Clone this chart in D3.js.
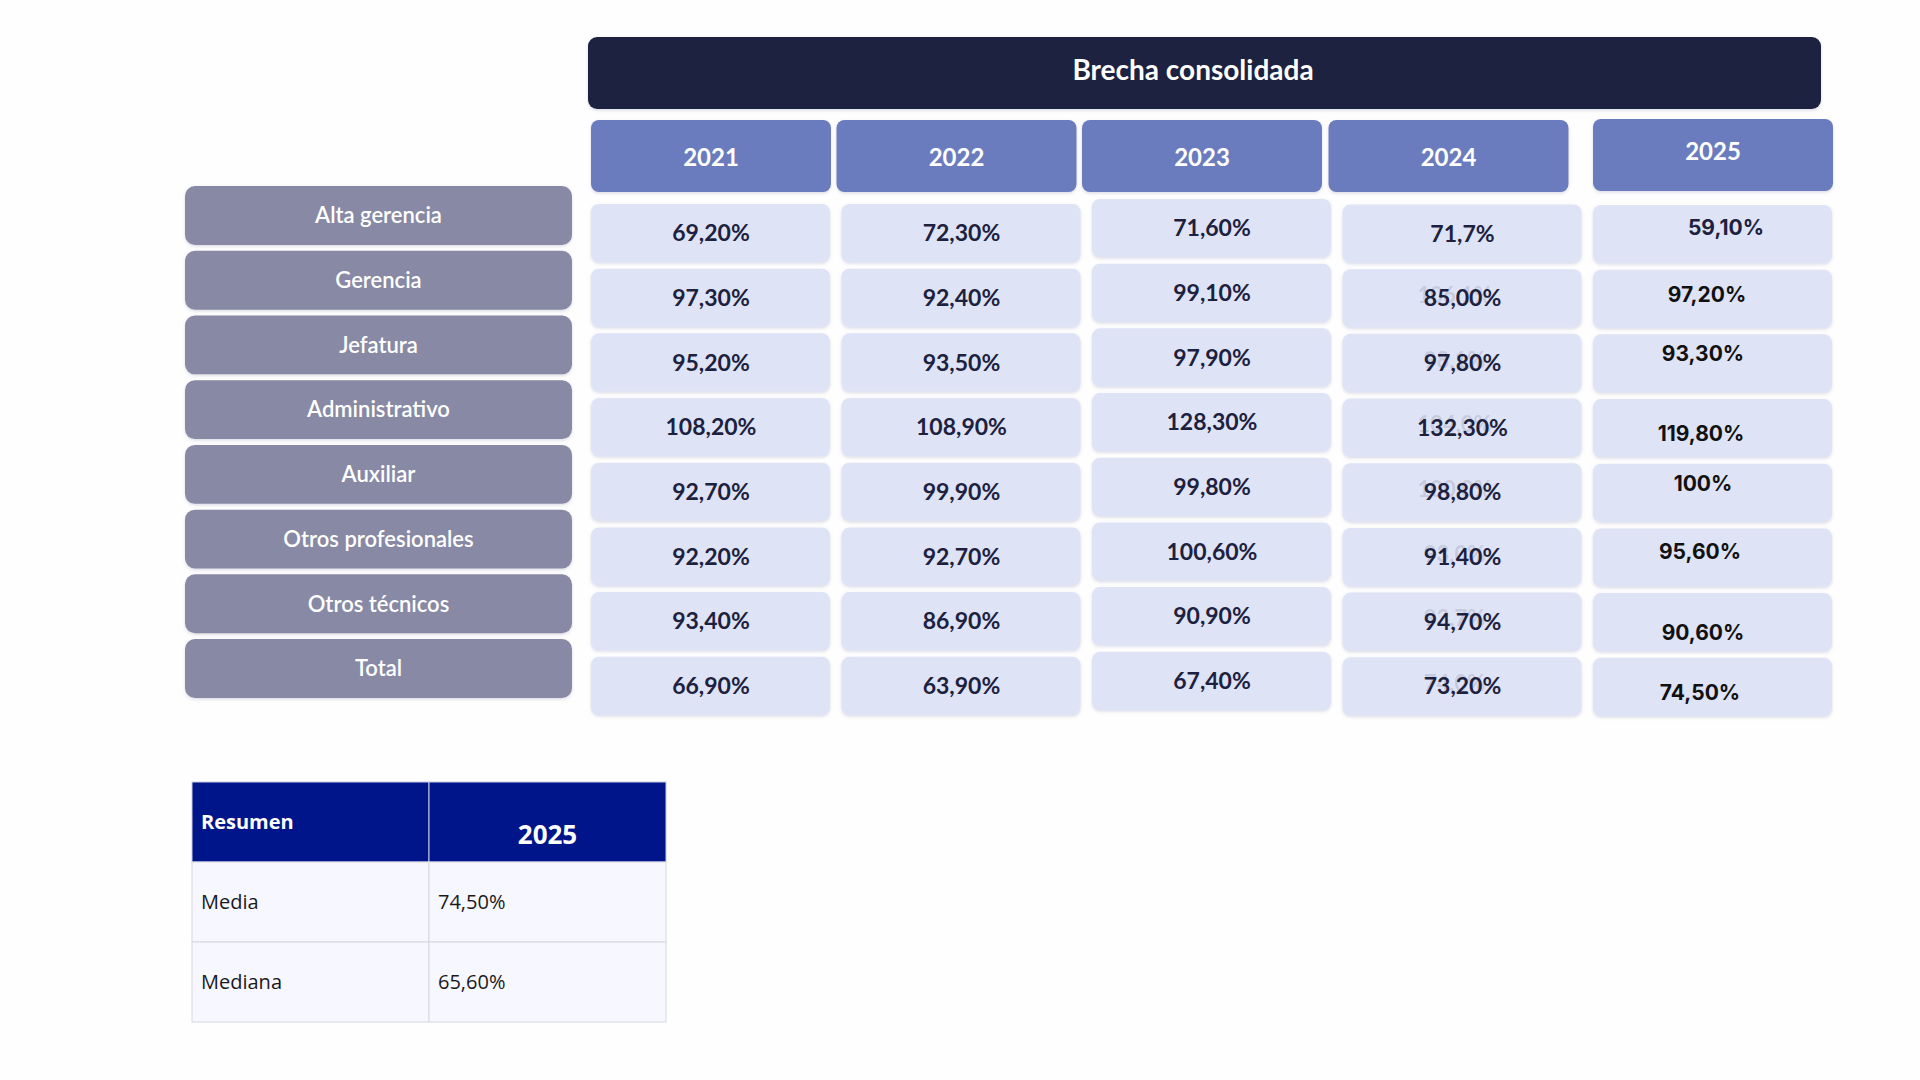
<!DOCTYPE html>
<html>
<head>
<meta charset="utf-8">
<script src="https://cdn.jsdelivr.net/npm/d3@7"></script>
<style>
  body { margin: 0; background: #fefefe; }
  svg { display: block; }
</style>
</head>
<body>
<div id="chart"></div>
<script>
// data
const title = "Brecha consolidada";
const years = ["2021", "2022", "2023", "2024", "2025"];
const categories = ["Alta gerencia", "Gerencia", "Jefatura", "Administrativo",
  "Auxiliar", "Otros profesionales", "Otros técnicos", "Total"];

const v2021 = ["69,20%", "97,30%", "95,20%", "108,20%", "92,70%", "92,20%", "93,40%", "66,90%"];
const v2022 = ["72,30%", "92,40%", "93,50%", "108,90%", "99,90%", "92,70%", "86,90%", "63,90%"];
const v2023 = ["71,60%", "99,10%", "97,90%", "128,30%", "99,80%", "100,60%", "90,90%", "67,40%"];
const v2024 = ["71,7%", "85,00%", "97,80%", "132,30%", "98,80%", "91,40%", "94,70%", "73,20%"];
const v2025 = ["59,10%", "97,20%", "93,30%", "119,80%", "100%", "95,60%", "90,60%", "74,50%"];
// faint older values still showing behind the 2024 column
const ghost2024 = ["", "106,1%", "98,1%", "104,0%", "100,0%", "93,0%", "93,7%", "74,0%"];

const summaryHead = ["Resumen", "2025"];
const summaryRows = ["Media", "Mediana"];
const summaryVals = ["74,50%", "65,60%"];

const series = [v2021, v2022, v2023, v2024, v2025];

// layout
const width = 1920, height = 1080;
const colShift = [3, 3, -2, 3.5, 4];       // small vertical drift of each value column
const headShift = [0, -5, -10, -14, 0];    // header boxes sit a bit left of their column
const nudge2025 = [[13, -6], [-6, -4], [-10, -10], [-12, 5], [-10, -9], [-13, -6], [-10, 10], [-13, 6]];

const svg = d3.select("#chart").append("svg")
  .attr("width", width).attr("height", height)
  .attr("viewBox", [0, 0, width, height]);

const defs = svg.append("defs");
defs.append("filter").attr("id", "soft")
  .attr("x", "-5%").attr("y", "-10%").attr("width", "110%").attr("height", "125%")
  .append("feDropShadow")
  .attr("dx", 0).attr("dy", 1.5).attr("stdDeviation", 1.5)
  .attr("flood-color", "#8a90b0").attr("flood-opacity", 0.3);

const x = d3.scaleBand().domain(years).range([591, 1833]).paddingInner(0.042);
const yRow = d3.scaleBand().domain(categories).range([201, 712]).paddingInner(0.1);
const yLab = d3.scaleBand().domain(categories).range([186, 698]).paddingInner(0.09);

// title bar
svg.append("rect")
  .attr("x", 588).attr("y", 37).attr("width", 1233).attr("height", 72)
  .attr("rx", 9).attr("fill", "#1c2140").attr("filter", "url(#soft)");
svg.append("text")
  .attr("x", 1193).attr("y", 70).attr("dy", "0.35em")
  .attr("text-anchor", "middle")
  .attr("font-family", "Lato, 'Noto Sans', sans-serif")
  .attr("font-size", 28).attr("font-weight", 700)
  .attr("fill", "#ffffff")
  .text(title);

// year headers
const head = svg.append("g").selectAll("g").data(years).join("g")
  .attr("transform", (d, i) => `translate(${x(d) + headShift[i]},${i === 4 ? 119 : 120})`);
head.append("rect")
  .attr("width", x.bandwidth()).attr("height", 72)
  .attr("rx", 8).attr("fill", "#6b7bbd").attr("filter", "url(#soft)");
head.append("text")
  .attr("x", x.bandwidth() / 2).attr("y", (d, i) => i === 4 ? 33 : 38).attr("dy", "0.35em")
  .attr("text-anchor", "middle")
  .attr("font-family", "Lato, 'Noto Sans', sans-serif")
  .attr("font-size", 24).attr("font-weight", 700)
  .attr("fill", "#ffffff")
  .text(d => d);

// row labels
const lab = svg.append("g").selectAll("g").data(categories).join("g")
  .attr("transform", d => `translate(185,${yLab(d)})`);
lab.append("rect")
  .attr("width", 387).attr("height", yLab.bandwidth())
  .attr("rx", 10).attr("fill", "#8789a5").attr("filter", "url(#soft)");
lab.append("text")
  .attr("x", 387 / 2).attr("y", yLab.bandwidth() / 2).attr("dy", "0.35em")
  .attr("text-anchor", "middle")
  .attr("font-family", "Lato, 'Noto Sans', sans-serif")
  .attr("font-size", 22).attr("font-weight", 600)
  .attr("fill", "#ffffff")
  .text(d => d);

// value cells
const cells = [];
years.forEach((yr, c) => {
  categories.forEach((cat, r) => {
    cells.push({ yr, cat, c, r, value: series[c][r], ghost: c === 3 ? ghost2024[r] : "" });
  });
});

const cell = svg.append("g").selectAll("g").data(cells).join("g")
  .attr("transform", d => `translate(${x(d.yr)},${yRow(d.cat) + colShift[d.c]})`);
cell.append("rect")
  .attr("width", x.bandwidth() - 1).attr("height", yRow.bandwidth())
  .attr("rx", 8).attr("fill", "#dfe3f6").attr("filter", "url(#soft)");
cell.filter(d => d.ghost).append("text")
  .attr("x", x.bandwidth() / 2 - 8).attr("y", yRow.bandwidth() / 2 - 3).attr("dy", "0.35em")
  .attr("text-anchor", "middle")
  .attr("font-family", "Lato, 'Noto Sans', sans-serif")
  .attr("font-size", 22).attr("font-weight", 700)
  .attr("fill", "#a3a8bf").attr("opacity", 0.4)
  .text(d => d.ghost);
cell.append("text")
  .attr("x", d => x.bandwidth() / 2 + (d.c === 4 ? nudge2025[d.r][0] : 0))
  .attr("y", d => yRow.bandwidth() / 2 + (d.c === 4 ? nudge2025[d.r][1] : 0))
  .attr("dy", "0.35em")
  .attr("text-anchor", "middle")
  .attr("font-family", d => d.c === 4 ? "Inter, Lato, sans-serif" : "Lato, 'Noto Sans', sans-serif")
  .attr("font-size", d => d.c === 4 ? 21 : 23).attr("font-weight", 700)
  .attr("fill", d => d.c === 4 && d.r > 0 ? "#111111" : "#1c2140")
  .text(d => d.value);

// summary table
const tx = d3.scaleBand().domain(summaryHead).range([192, 666]);
const ty = d3.scaleBand().domain(["head"].concat(summaryRows)).range([782, 1022]);
const tbl = svg.append("g");

tbl.selectAll("rect.h").data(summaryHead).join("rect")
  .attr("class", "h")
  .attr("x", d => tx(d)).attr("y", ty("head"))
  .attr("width", tx.bandwidth()).attr("height", ty.bandwidth())
  .attr("fill", "#00158a").attr("stroke", "#c9cbe0").attr("stroke-width", 1);

const bodyCells = [];
summaryRows.forEach((r, i) => {
  bodyCells.push({ row: r, col: summaryHead[0], text: r });
  bodyCells.push({ row: r, col: summaryHead[1], text: summaryVals[i] });
});
tbl.selectAll("rect.b").data(bodyCells).join("rect")
  .attr("class", "b")
  .attr("x", d => tx(d.col)).attr("y", d => ty(d.row))
  .attr("width", tx.bandwidth()).attr("height", ty.bandwidth())
  .attr("fill", "#f7f7ff").attr("stroke", "#d6d7e2").attr("stroke-width", 1);

tbl.append("text")
  .attr("x", tx(summaryHead[0]) + 9).attr("y", ty("head") + 40).attr("dy", "0.35em")
  .attr("font-family", "'Open Sans', 'Noto Sans', sans-serif")
  .attr("font-size", 20).attr("font-weight", 700).attr("fill", "#ffffff")
  .text(summaryHead[0]);
tbl.append("text")
  .attr("x", tx(summaryHead[1]) + tx.bandwidth() / 2).attr("y", ty("head") + 53).attr("dy", "0.35em")
  .attr("text-anchor", "middle")
  .attr("font-family", "'Open Sans', 'Noto Sans', sans-serif")
  .attr("font-size", 26).attr("font-weight", 700).attr("fill", "#ffffff")
  .text(summaryHead[1]);

tbl.selectAll("text.b").data(bodyCells).join("text")
  .attr("class", "b")
  .attr("x", d => tx(d.col) + 9).attr("y", d => ty(d.row) + ty.bandwidth() / 2).attr("dy", "0.35em")
  .attr("font-family", "'Open Sans', 'Noto Sans', sans-serif")
  .attr("font-size", 20).attr("fill", "#1a1a1a")
  .text(d => d.text);
</script>
</body>
</html>
